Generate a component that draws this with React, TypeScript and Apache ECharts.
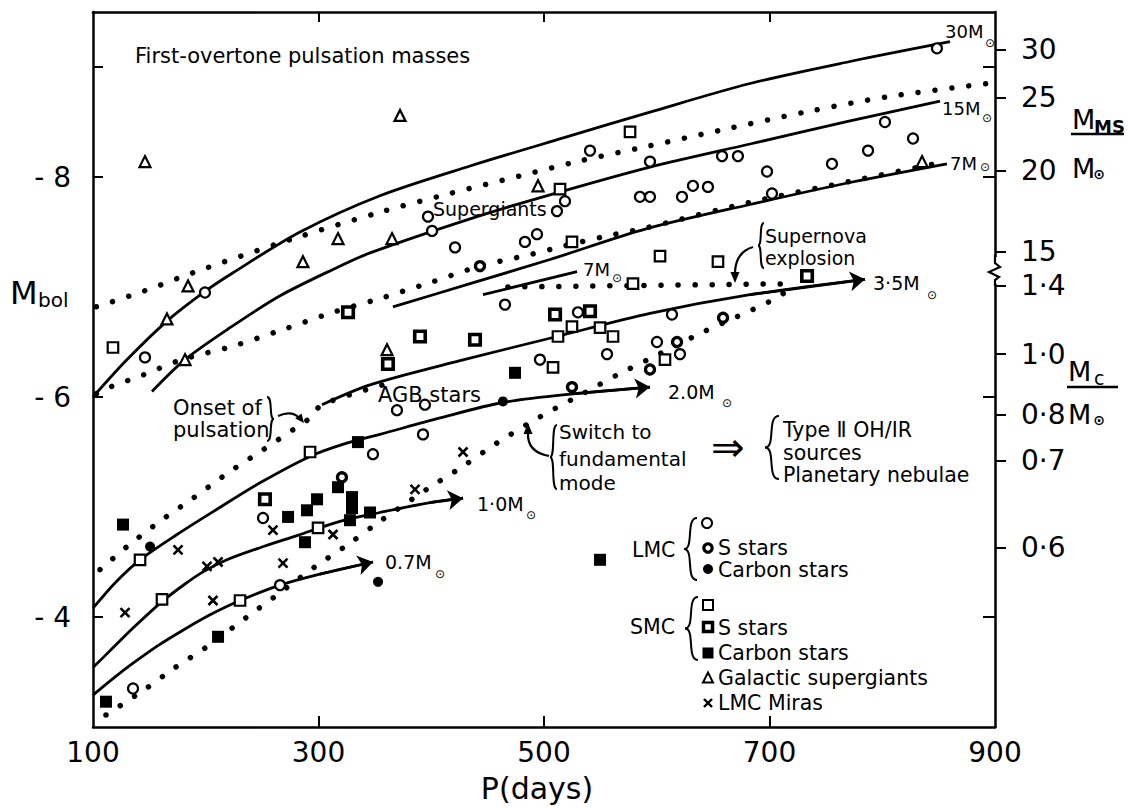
import React, { useEffect, useRef } from "react";
import * as echarts from "echarts";

const FONT = "'DejaVu Sans', sans-serif";

// ---- axis ticks / labels ----
const xLabelValues = [100, 300, 500, 700, 900];
const xTickValues = [300, 500, 700];
const yLabelValues = [-8, -6, -4];
const yTickValues = [-9, -8, -6, -4];
const msLabels = ["30", "25", "20", "15"];
const msMbol = [-9.16, -8.72, -8.06, -7.32];
const mcLabels = ["1·4", "1·0", "0·8", "0·7", "0·6"];
const mcMbol = [-7.01, -6.39, -5.84, -5.42, -4.63];

// ---- first-overtone mass curves (P, Mbol) ----
const curve30M = [[100, -6.0], [130.2, -6.34], [165.6, -6.69], [199.3, -6.96], [224.2, -7.13], [283.6, -7.5], [354.5, -7.83], [434.4, -8.1], [518.6, -8.36], [594, -8.59], [682.7, -8.85], [771.4, -9.05], [860.1, -9.23]];
const curve15M = [[152.3, -6.05], [181.6, -6.34], [221.5, -6.63], [265.9, -6.92], [312.9, -7.16], [345.7, -7.31], [434.4, -7.62], [499.1, -7.82], [594, -8.09], [682.7, -8.3], [771.4, -8.51], [851.2, -8.69]];
const curve7M = [[366, -6.82], [434.4, -7.03], [505.3, -7.25], [591.3, -7.53], [682.7, -7.75], [771.4, -7.95], [857.4, -8.12]];

// ---- AGB tracks ----
const agb7M = [[445.9, -6.93], [529.3, -7.14]];
const agb35M = [[303.1, -5.93], [345.7, -6.11], [425.5, -6.33], [511.5, -6.55], [594, -6.76], [682.7, -6.93], [784.7, -7.07]];
const agb20M = [[100, -4.08], [119.5, -4.31], [141.7, -4.52], [174.5, -4.75], [210, -4.98], [248.1, -5.22], [292.5, -5.46], [325, -5.58], [354.5, -5.66], [407.8, -5.81], [463.6, -5.95], [527.5, -6.03], [594, -6.09]];
const agb10M = [[100, -3.54], [117.7, -3.72], [135.5, -3.9], [161.2, -4.14], [181.6, -4.3], [197.6, -4.41], [218.8, -4.52], [248.1, -4.63], [280.9, -4.74], [319.1, -4.87], [354.5, -4.95], [398.9, -5.04], [428.2, -5.08]];
const agb07M = [[100, -3.29], [117.7, -3.44], [135.5, -3.58], [157.6, -3.74], [179.8, -3.88], [203.8, -4.02], [230.4, -4.15], [265.9, -4.29], [301.3, -4.39], [348.3, -4.5]];

// ---- dotted boundaries ----
const dottedUpper = [[103, -6.82], [144.3, -6.96], [188.7, -7.13], [274.7, -7.43], [354.5, -7.68], [416.6, -7.85], [478.7, -8.01], [529.3, -8.14], [592.2, -8.28], [654.3, -8.42], [731.5, -8.59], [805.1, -8.73], [893.8, -8.85]];
const dottedMiddle = [[103, -6.03], [115.1, -6.09], [144.3, -6.2], [178.9, -6.34], [223.3, -6.46], [267.6, -6.61], [312.9, -6.77], [352.8, -6.89], [398.9, -7.04], [443.2, -7.19], [485.8, -7.29], [516.8, -7.37], [554.1, -7.46], [591.3, -7.54], [682.7, -7.77], [771.4, -7.96], [851.2, -8.13]];
const dottedOnset = [[106.2, -4.43], [130.2, -4.64], [159.4, -4.87], [188.7, -5.08], [219.7, -5.31], [250.8, -5.52], [280, -5.72], [292.5, -5.81], [303.1, -5.93], [357.2, -6.11]];
const dottedSwitch = [[111.5, -3.11], [144.3, -3.33], [172.7, -3.54], [201.1, -3.73], [236.6, -4.0], [263.2, -4.2], [296, -4.45], [326.2, -4.66], [354.5, -4.87], [398.9, -5.18], [428.2, -5.37], [456.5, -5.57], [496.4, -5.82], [538.1, -6.05], [564.7, -6.2], [592.2, -6.34], [641, -6.59], [671.2, -6.73], [700.4, -6.87], [724.4, -7.02]];
const dottedSupernova = [[468, -7.0], [724, -7.03]];

// ---- observed stars ----
const lmcM = [[146.1, -6.36], [199.3, -6.95], [135.5, -3.35], [265.9, -4.29], [250.8, -4.9], [348.3, -5.48], [369.6, -5.88], [394.4, -5.93], [392.7, -5.66], [397.1, -7.64], [400.7, -7.51], [421.1, -7.36], [483.1, -7.41], [493.8, -7.48], [540.8, -8.24], [594, -8.14], [657.9, -8.19], [672, -8.19], [518.6, -7.78], [511.5, -7.69], [585.1, -7.82], [594, -7.82], [622.4, -7.82], [632.1, -7.92], [645.4, -7.91], [697.8, -8.05], [755.4, -8.12], [787.4, -8.24], [802.4, -8.5], [827.3, -8.35], [702.2, -7.85], [465.4, -6.84], [530.1, -6.77], [555.9, -6.39], [496.4, -6.34], [613.5, -6.75], [600.2, -6.5], [620.6, -6.39], [848.5, -9.17]];
const lmcS = [[320.8, -5.27], [658.8, -6.72], [618, -6.5], [594, -6.25], [524.8, -6.09], [443.2, -7.19]];
const lmcC = [[150.6, -4.64], [463.6, -5.96], [352.8, -4.32]];
const smcM = [[117.7, -6.45], [576.3, -8.41], [514.2, -7.89], [524.8, -7.41], [602.9, -7.28], [654.3, -7.23], [578.9, -7.03], [524.8, -6.64], [512.4, -6.55], [549.7, -6.63], [561.2, -6.55], [508, -6.27], [607.3, -6.34], [292.5, -5.5], [141.7, -4.52], [161.2, -4.16], [230.4, -4.15], [299.6, -4.81]];
const smcS = [[326.2, -6.77], [509.8, -6.75], [540.8, -6.78], [390, -6.55], [438.8, -6.52], [361.6, -6.3], [252.5, -5.07], [733.3, -7.1]];
const smcC = [[335, -5.59], [126.6, -4.84], [273, -4.91], [289.8, -4.97], [298.7, -5.07], [317.3, -5.18], [329.7, -5.09], [329.7, -4.99], [327.9, -4.88], [345.7, -4.95], [288, -4.68], [474.3, -6.22], [210.9, -3.82], [111.5, -3.23], [549.7, -4.52]];
const galSG = [[146.1, -8.14], [372.3, -8.56], [317.3, -7.44], [286.2, -7.23], [365.2, -7.44], [494.7, -7.92], [165.6, -6.71], [184.3, -7.01], [181.6, -6.34], [360.8, -6.43], [835.3, -8.14]];
const lmcMira = [[175.4, -4.61], [128.4, -4.04], [201.1, -4.46], [210.9, -4.5], [206.4, -4.15], [268.5, -4.49], [259.6, -4.79], [312.9, -4.75], [428.2, -5.5], [385.6, -5.16]];

const arrowTracks = [agb35M, agb20M, agb10M, agb07M];

function buildGraphics() {
  const g: any[] = [];
  const txt = (x: number, y: number, text: string, size = 19, extra: any = {}) =>
    g.push({
      type: "text", x, y, z: 20,
      style: { text, fontSize: size, fontFamily: FONT, fill: "#000", align: "left", verticalAlign: "middle", textAlign: "left", textVerticalAlign: "middle", ...extra },
    });
  const ctxt = (x: number, y: number, text: string, size = 12, extra: any = {}) =>
    txt(x, y, text, size, { align: "center", textAlign: "center", ...extra });
  const seg = (x1: number, y1: number, x2: number, y2: number, w = 2.2) =>
    g.push({ type: "line", z: 20, shape: { x1, y1, x2, y2 }, style: { stroke: "#000", lineWidth: w } });
  const bez = (x1: number, y1: number, cx: number, cy: number, x2: number, y2: number, w = 2.2) =>
    g.push({ type: "bezierCurve", z: 20, shape: { x1, y1, cpx1: cx, cpy1: cy, x2, y2 }, style: { stroke: "#000", lineWidth: w, fill: "none" } });
  const bez3 = (x1: number, y1: number, c1x: number, c1y: number, c2x: number, c2y: number, x2: number, y2: number, w = 2) =>
    g.push({ type: "bezierCurve", z: 20, shape: { x1, y1, cpx1: c1x, cpy1: c1y, cpx2: c2x, cpy2: c2y, x2, y2 }, style: { stroke: "#000", lineWidth: w, fill: "none" } });
  const head = (tx: number, ty: number, ang: number, L = 10, W = 4.5) => {
    const bx = tx - L * Math.cos(ang), by = ty - L * Math.sin(ang);
    const px = -Math.sin(ang) * W, py = Math.cos(ang) * W;
    g.push({ type: "polygon", z: 20, shape: { points: [[tx, ty], [bx + px, by + py], [bx - px, by - py]] }, style: { fill: "#000" } });
  };
  const braceL = (xr: number, y0: number, y1: number, w: number) => {
    const ym = (y0 + y1) / 2, xt = xr - w;
    bez3(xr, y0, xr - 0.9 * w, y0, xr - 0.2 * w, ym, xt, ym);
    bez3(xt, ym, xr - 0.2 * w, ym, xr - 0.9 * w, y1, xr, y1);
  };
  const braceR = (xl: number, y0: number, y1: number, w: number) => {
    const ym = (y0 + y1) / 2, xt = xl + w;
    bez3(xl, y0, xl + 0.9 * w, y0, xl + 0.2 * w, ym, xt, ym);
    bez3(xt, ym, xl + 0.2 * w, ym, xl + 0.9 * w, y1, xl, y1);
  };

  // title
  txt(135, 56, "First-overtone pulsation masses", 21);
  txt(433, 209, "Supergiants", 19);

  // mass labels
  const sun = (x: number, y: number) => ctxt(x, y, "⊙", 12, { lineHeight: 12 });
  txt(945, 31, "30M", 18); sun(990, 43);
  txt(942, 108, "15M", 18); sun(987, 118);
  txt(950, 163, "7M", 18); sun(985, 167);
  txt(583, 269, "7M", 18); sun(617, 278);
  txt(873, 283, "3·5M", 19); sun(932, 295);
  txt(668, 392, "2.0M", 19); sun(727, 403);
  txt(477, 504, "1·0M", 19); sun(531, 515);
  txt(385, 562, "0.7M", 19); sun(440, 574);

  // annotations
  txt(378, 395, "AGB stars", 21);
  txt(173, 408, "Onset of", 21);
  txt(173, 430, "pulsation", 21);
  braceR(267, 397, 441, 7);
  bez(278, 416, 292, 410, 299, 418);
  head(304, 423, Math.atan2(5, 4), 9, 4);

  txt(765, 236, "Supernova", 19);
  txt(765, 258, "explosion", 19);
  braceL(764, 223, 268, 6);
  bez(753, 247, 736, 252, 735, 272);
  head(735, 283, Math.PI / 2, 11, 4.5);

  txt(559, 432, "Switch to", 20);
  txt(559, 459, "fundamental", 20);
  txt(559, 483, "mode", 20);
  braceL(557, 425, 489, 7);
  bez(549, 456, 527, 452, 528, 433);
  head(528, 423, -Math.PI / 2, 11, 4.5);

  txt(711, 447, "⇒", 40);
  braceL(779, 416, 479, 14);
  txt(783, 430, "Type Ⅱ OH/IR", 20.5, { lineHeight: 21 });
  txt(783, 453, "sources", 20.5, { lineHeight: 21 });
  txt(783, 475, "Planetary nebulae", 20.5, { lineHeight: 21 });

  // legend
  const lt = (x: number, y: number, s: string) => txt(x, y, s, 20.5, { lineHeight: 20 });
  lt(632, 550, "LMC");
  braceL(697, 518, 580, 13);
  g.push({ type: "circle", z: 20, shape: { cx: 707, cy: 523, r: 5 }, style: { fill: "#fff", stroke: "#000", lineWidth: 2 } });
  g.push({ type: "circle", z: 20, shape: { cx: 708, cy: 548, r: 4.2 }, style: { fill: "#fff", stroke: "#000", lineWidth: 3.2 } });
  g.push({ type: "circle", z: 20, shape: { cx: 708, cy: 569, r: 5 }, style: { fill: "#000" } });
  lt(718, 548, "S stars");
  lt(718, 570, "Carbon stars");

  lt(630, 627, "SMC");
  braceL(698, 597, 660, 13);
  g.push({ type: "rect", z: 20, shape: { x: 703, y: 600, width: 10, height: 10 }, style: { fill: "#fff", stroke: "#000", lineWidth: 2 } });
  g.push({ type: "rect", z: 20, shape: { x: 703.5, y: 622.5, width: 9, height: 9 }, style: { fill: "#fff", stroke: "#000", lineWidth: 3.5 } });
  g.push({ type: "rect", z: 20, shape: { x: 702.5, y: 647.5, width: 11, height: 11 }, style: { fill: "#000" } });
  g.push({ type: "polygon", z: 20, shape: { points: [[708, 672.5], [703, 682.5], [713, 682.5]] }, style: { fill: "#fff", stroke: "#000", lineWidth: 2 } });
  seg(704, 699, 712, 707, 2.4);
  seg(712, 699, 704, 707, 2.4);
  lt(718, 628, "S stars");
  lt(718, 653, "Carbon stars");
  lt(718, 678, "Galactic supergiants");
  lt(718, 703, "LMC Miras");

  // axis titles
  txt(10, 293, "M", 32);
  txt(38, 300, "bol", 20);
  ctxt(537, 788, "P(days)", 30);

  txt(1072, 119, "M", 27);
  txt(1094, 126, "MS", 18, { fontWeight: "bold" });
  seg(1071, 134, 1124, 134, 2.5);
  txt(1072, 168, "M", 27);
  ctxt(1099, 174, "⊙", 14, { fontWeight: "bold" });

  txt(1068, 371, "M", 27);
  txt(1094, 378, "c", 19);
  seg(1067, 387, 1118, 387, 2.5);
  txt(1068, 414, "M", 27);
  ctxt(1099, 420, "⊙", 14, { fontWeight: "bold" });

  // axis break on the right
  g.push({ type: "rect", z: 30, shape: { x: 988, y: 257, width: 14, height: 27 }, style: { fill: "#fff" } });
  g.push({ type: "polyline", z: 31, shape: { points: [[995, 255], [995, 263], [1000, 267], [989, 272], [999, 277], [995, 280], [995, 286]] }, style: { stroke: "#000", lineWidth: 2.2, fill: "none" } });

  return g;
}

export default function App() {
  const ref = useRef<HTMLDivElement>(null);
  useEffect(() => {
    const el = ref.current!;
    const chart = echarts.init(el, null, { renderer: "svg" });

    const solid = (name: string, data: number[][]) => ({
      type: "line", name, data, showSymbol: false, symbol: "none", smooth: 0.3, silent: true, z: 3,
      lineStyle: { color: "#000", width: 2.8, opacity: 1 },
    });
    const dotted = (name: string, data: number[][]) => ({
      type: "line", name, data, showSymbol: false, symbol: "none", smooth: 0.3, silent: true, z: 2,
      lineStyle: { color: "#000", width: 5.5, type: [0.01, 17], cap: "round", opacity: 1 },
    });
    const sc = (name: string, data: number[][], symbol: string, size: number, itemStyle: any) => ({
      type: "scatter", name, data, symbol, symbolSize: size, itemStyle: { opacity: 1, ...itemStyle }, z: 6, silent: true,
    });
    const allRightVals = [...msMbol, ...mcMbol];
    const allRightLabs = [...msLabels, ...mcLabels];
    const axisLine = { show: true, onZero: false, lineStyle: { color: "#000", width: 2.5 } };

    const option: any = {
      animation: false,
      backgroundColor: "#fff",
      textStyle: { fontFamily: FONT },
      grid: { left: 93, right: 133, top: 12, bottom: 82, show: false },
      xAxis: [
        {
          type: "value", min: 100, max: 900, position: "bottom", axisLine,
          axisTick: { show: true, inside: true, length: 11, customValues: xTickValues, lineStyle: { color: "#000", width: 2 } },
          axisLabel: { customValues: xLabelValues, fontSize: 28, color: "#000", fontFamily: FONT, margin: 11 },
          splitLine: { show: false },
        },
        {
          type: "value", min: 100, max: 900, position: "top", axisLine,
          axisTick: { show: true, inside: true, length: 10, customValues: xTickValues, lineStyle: { color: "#000", width: 2 } },
          axisLabel: { show: false },
          splitLine: { show: false },
        },
      ],
      yAxis: [
        {
          type: "value", min: -9.5, max: -3, inverse: true, position: "left", axisLine,
          axisTick: { show: true, inside: true, length: 10, customValues: yTickValues, lineStyle: { color: "#000", width: 2 } },
          axisLabel: { customValues: yLabelValues, fontSize: 28, color: "#000", fontFamily: FONT, margin: 22, formatter: (v: number) => "- " + Math.abs(v) },
          splitLine: { show: false },
        },
        {
          type: "value", min: -9.5, max: -3, inverse: true, position: "right", axisLine,
          axisTick: { show: true, inside: false, length: 11, customValues: allRightVals, lineStyle: { color: "#000", width: 2 } },
          axisLabel: {
            customValues: allRightVals, fontSize: 28, color: "#000", fontFamily: FONT, margin: 26,
            formatter: (v: number) => {
              let best = 0;
              allRightVals.forEach((r, i) => { if (Math.abs(r - v) < Math.abs(allRightVals[best] - v)) best = i; });
              return allRightLabs[best];
            },
          },
          splitLine: { show: false },
        },
        {
          type: "value", min: -9.5, max: -3, inverse: true, position: "right", axisLine: { show: false },
          axisTick: { show: true, inside: true, length: 12, customValues: yTickValues, lineStyle: { color: "#000", width: 2 } },
          axisLabel: { show: false },
          splitLine: { show: false },
        },
      ],
      series: [
        dotted("upper boundary", dottedUpper),
        dotted("middle boundary", dottedMiddle),
        dotted("onset of pulsation", dottedOnset),
        dotted("switch to fundamental", dottedSwitch),
        dotted("supernova", dottedSupernova),
        solid("30M", curve30M),
        solid("15M", curve15M),
        solid("7M", curve7M),
        solid("7M AGB", agb7M),
        solid("3.5M", agb35M),
        solid("2.0M", agb20M),
        solid("1.0M", agb10M),
        solid("0.7M", agb07M),
        {
          type: "lines", coordinateSystem: "cartesian2d", silent: true, z: 4,
          symbol: ["none", "arrow"], symbolSize: [0, 15],
          lineStyle: { color: "#000", width: 2.8, curveness: 0, opacity: 1 },
          itemStyle: { color: "#000", opacity: 1 },
          data: arrowTracks.map((t) => ({ coords: [t[t.length - 2], t[t.length - 1]] })),
        },
        sc("LMC M", lmcM, "circle", 10, { color: "#fff", borderColor: "#000", borderWidth: 2.2 }),
        sc("LMC S", lmcS, "circle", 9, { color: "#fff", borderColor: "#000", borderWidth: 3.3 }),
        sc("LMC C", lmcC, "circle", 10, { color: "#000" }),
        sc("SMC M", smcM, "rect", 10.5, { color: "#fff", borderColor: "#000", borderWidth: 2.2 }),
        sc("SMC S", smcS, "rect", 10.5, { color: "#fff", borderColor: "#000", borderWidth: 3.6 }),
        sc("SMC C", smcC, "rect", 12, { color: "#000" }),
        sc("Galactic supergiants", galSG, "triangle", 11, { color: "#fff", borderColor: "#000", borderWidth: 2.2 }),
        sc("LMC Miras", lmcMira, "path://M0,0L10,10M10,0L0,10", 9, { color: "none", borderColor: "#000", borderWidth: 2.6 }),
      ],
      graphic: { elements: buildGraphics() },
    };
    chart.setOption(option);
    return () => chart.dispose();
  }, []);
  return <div ref={ref} style={{ position: "fixed", left: 0, top: 0, width: 1128, height: 809, background: "#fff" }} />;
}
